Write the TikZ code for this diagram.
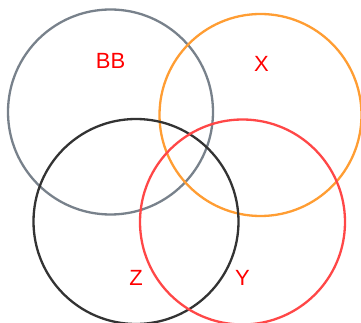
\documentclass[tikz,border=0pt]{standalone}
\usepackage{fontspec}
\setmainfont{Liberation Sans}
\definecolor{cbb}{HTML}{78818B}
\definecolor{cx}{HTML}{FF9D33}
\definecolor{cz}{HTML}{333333}
\definecolor{cy}{HTML}{FF4747}
\definecolor{lab}{HTML}{FF0000}
\begin{document}
\begin{tikzpicture}[x=1pt,y=-1pt,
  ring/.style={circle,draw,line width=2.3pt,minimum size=#1,inner sep=0pt},
  lbl/.style={text=lab,font=\fontsize{22}{22}\selectfont,inner sep=0pt}]
\useasboundingbox (0,0) rectangle (361,323);
\node[ring=205pt,draw=cbb] (bb) at (110.5,112) {};
\node[ring=202pt,draw=cx] (x) at (260.5,115) {};
\node[ring=205pt,draw=cz] (z) at (136,221.5) {};
\node[ring=205pt,draw=cy] (y) at (242.5,222) {};
\node[lbl] (tbb) at (110.5,61) {BB};
\node[lbl] (tx) at (261.5,63.5) {X};
\node[lbl] (tz) at (136,278) {Z};
\node[lbl] (ty) at (242.5,278) {Y};
\end{tikzpicture}
\end{document}
